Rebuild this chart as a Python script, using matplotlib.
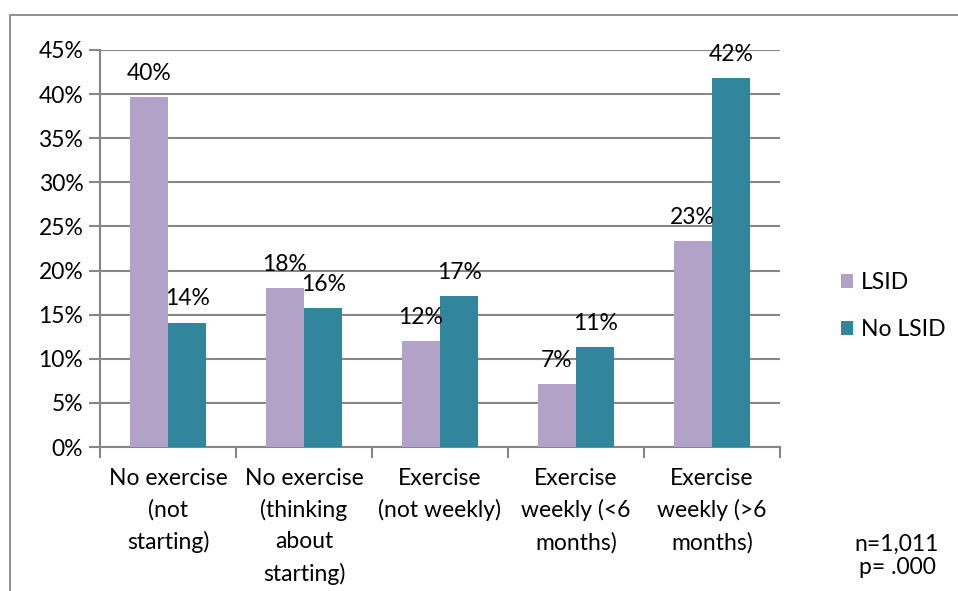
#!/usr/bin/env python3
import numpy as np
from matplotlib import pyplot as plt
from matplotlib.patches import Rectangle
from matplotlib.ticker import FixedLocator, PercentFormatter

plt.rcParams['font.family'] = ['Lato', 'DejaVu Sans']

categories = ['No exercise\n(not\nstarting)',
              'No exercise\n(thinking\nabout\nstarting)',
              'Exercise\n(not weekly)',
              'Exercise\nweekly (<6\nmonths)',
              'Exercise\nweekly (>6\nmonths)']
lsid = [39.7, 18.0, 12.0, 7.1, 23.3]
no_lsid = [14.1, 15.7, 17.1, 11.3, 41.8]
series_names = ['LSID', 'No LSID']
colors = ['#b3a2c7', '#31859c']

fs = 16.5
fig = plt.figure(figsize=(9.58, 5.91), dpi=100)
ax = fig.add_axes([100/958, 1-447/591, 680/958, 397/591])

# outer chart border (left and top visible)
fig.patches.append(Rectangle((10/958, -0.1), 1.2, 1-15/591+0.1,
                             transform=fig.transFigure, fill=False,
                             edgecolor='#888888', linewidth=1.3))

x = np.arange(len(categories))
w = 0.283
grid = '#868686'
for vals, name, c, off in zip([lsid, no_lsid], series_names, colors, [-w/2, w/2]):
    bars = ax.bar(x + off, vals, w, color=c, label=name, zorder=3)
    for b, v in zip(bars, vals):
        ax.annotate(f'{v:.0f}%', (b.get_x() + b.get_width()/2, v),
                    xytext=(0, 9.5), textcoords='offset points',
                    ha='center', va='bottom', fontsize=fs, zorder=4)

ax.set_xlim(-0.5, 4.5)
ax.set_ylim(0, 45)
ax.yaxis.set_major_locator(FixedLocator(np.arange(0, 46, 5)))
ax.yaxis.set_major_formatter(PercentFormatter(decimals=0))
ax.grid(axis='y', color=grid, linewidth=1.5, zorder=0)
ax.set_xticks(x)
ax.set_xticklabels(categories, fontsize=fs, linespacing=1.58)
ax.xaxis.set_minor_locator(FixedLocator(np.arange(-0.5, 5, 1)))
ax.tick_params(axis='x', which='major', length=0, pad=15)
ax.tick_params(axis='x', which='minor', length=8, width=1.5, color=grid)
ax.tick_params(axis='y', length=8, width=1.5, color=grid, labelsize=fs, pad=4)
for s in ['top', 'right']:
    ax.spines[s].set_visible(False)
for s in ['left', 'bottom']:
    ax.spines[s].set_color(grid)
    ax.spines[s].set_linewidth(1.5)

ax.legend(loc='center left', bbox_to_anchor=(820/958, 1-306/591),
          bbox_transform=fig.transFigure, frameon=False, fontsize=fs,
          handlelength=0.55, handleheight=0.55, handletextpad=0.35,
          labelspacing=1.15)

fig.text(897/958, 1-544/591, 'n=1,011', ha='center', va='center', fontsize=fs)
fig.text(897/958, 1-567/591, 'p= .000', ha='center', va='center', fontsize=fs)

fig.savefig('out.png', dpi=100)
